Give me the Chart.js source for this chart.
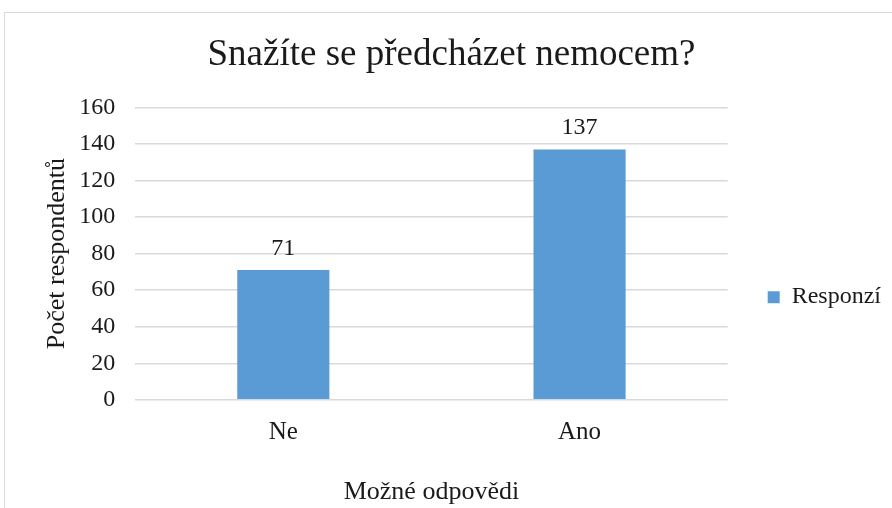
<!DOCTYPE html>
<html lang="cs">
<head>
  <meta charset="UTF-8">
  <title>Snažíte se předcházet nemocem?</title>
  <script src="https://cdn.jsdelivr.net/npm/chart.js"></script>
  <style>
    html, body { margin: 0; padding: 0; background: #fff; }
    #wrap { position: relative; width: 892px; height: 508px; }
  </style>
</head>
<body>
  <div id="wrap">
    <canvas id="myChart" width="892" height="508"></canvas>
  </div>

  <script>
    // Data
    const categories = ['Ne', 'Ano'];
    const responses = [71, 137];
    const yTicks = [0, 20, 40, 60, 80, 100, 120, 140, 160];

    const serif = "'Liberation Serif', 'Times New Roman', serif";
    const textColor = '#1a1a1a';

    // Outer frame + value labels above bars
    const extras = {
      id: 'extras',
      afterDraw(chart) {
        const c = chart.ctx;
        c.save();
        c.strokeStyle = '#d9d9d9';
        c.lineWidth = 1;
        c.strokeRect(4.5, 12.5, 1000, 1000);

        const meta = chart.getDatasetMeta(0);
        c.fillStyle = textColor;
        c.font = '24px ' + serif;
        c.textAlign = 'center';
        c.textBaseline = 'alphabetic';
        meta.data.forEach((bar, i) => {
          c.fillText(String(responses[i]), bar.x, bar.y - 15);
        });
        c.restore();
      }
    };

    const ctx = document.getElementById('myChart').getContext('2d');
    const myChart = new Chart(ctx, {
      type: 'bar',
      data: {
        labels: categories,
        datasets: [{
          label: 'Responzí',
          data: responses,
          backgroundColor: '#5b9bd5',
          barPercentage: 0.311,
          categoryPercentage: 1
        }]
      },
      options: {
        responsive: false,
        animation: false,
        layout: { padding: { left: 12, right: 1, top: 12, bottom: 0 } },
        plugins: {
          title: {
            display: true,
            text: 'Snažíte se předcházet nemocem?',
            color: textColor,
            font: { family: serif, size: 37, weight: 'normal' },
            padding: { top: 21, bottom: 30 }
          },
          legend: {
            position: 'right',
            // empty legend title only nudges the entry down to where it sits in the original
            title: { display: true, text: '', font: { size: 12 }, padding: { top: 60, bottom: 0 } },
            labels: {
              color: textColor,
              font: { family: serif, size: 24 },
              boxWidth: 12,
              boxHeight: 12,
              padding: 40
            }
          },
          tooltip: { enabled: false }
        },
        scales: {
          x: {
            grid: { display: false, drawTicks: false },
            border: { display: false },
            ticks: { color: textColor, font: { family: serif, size: 25 }, padding: 18 },
            title: {
              display: true,
              text: 'Možné odpovědi',
              color: textColor,
              font: { family: serif, size: 26 },
              padding: { top: 11, bottom: 0 }
            }
          },
          y: {
            min: 0,
            max: 160,
            afterBuildTicks: (axis) => { axis.ticks = yTicks.map(v => ({ value: v })); },
            // invisible tick marks give the gap between labels and gridlines
            grid: { color: '#d9d9d9', lineWidth: 1.5, drawTicks: true, tickLength: 20, tickColor: 'rgba(0,0,0,0)' },
            border: { display: false },
            ticks: { color: textColor, font: { family: serif, size: 24 }, padding: 0 },
            title: {
              display: true,
              text: 'Počet respondentů',
              color: textColor,
              font: { family: serif, size: 26 },
              padding: { top: 30, bottom: 6 }
            }
          }
        }
      },
      plugins: [extras]
    });
  </script>
</body>
</html>
